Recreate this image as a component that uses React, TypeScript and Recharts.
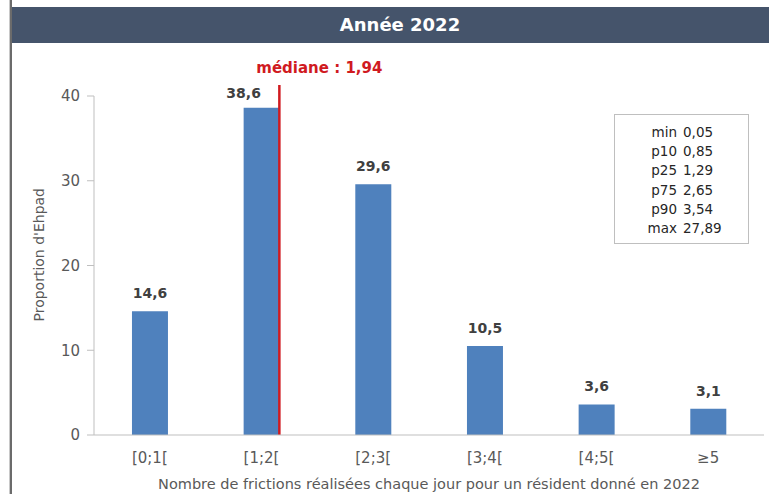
import { BarChart, Bar, XAxis, YAxis, ReferenceLine, LabelList } from 'recharts'

const categories = ['[0;1[', '[1;2[', '[2;3[', '[3;4[', '[4;5[', '≥5']
const shares = [14.6, 38.6, 29.6, 10.5, 3.6, 3.1]
const yTicks = [0, 10, 20, 30, 40]
const median = 1.94
const medianLineTop = 41.3
const statLabels = ['min', 'p10', 'p25', 'p75', 'p90', 'max']
const statValues = [0.05, 0.85, 1.29, 2.65, 3.54, 27.89]

const FONT = '"DejaVu Sans", "Liberation Sans", Arial, sans-serif'
const GREY = '#595959'
const AXIS = '#bfbfbf'
const BLUE = '#4f81bd'
const RED = '#d01a1f'
const GAP = 0.34

// pos = centre of each bin on a plain numeric axis, used only to place the median marker
const data = categories.map((bin, i) => ({ bin, share: shares[i], pos: i + 0.5 }))

const medianBin = Math.floor(median)
// Excel draws the marker on the right edge of the median's bar
const medianX = medianBin + 0.5 + (1 - 2 * GAP) / 2

const fr = (v: number, d: number) => v.toFixed(d).replace('.', ',')

function ValueLabel(props: any) {
  const vb = props.viewBox ?? props
  const x = props.x ?? vb.x
  const y = props.y ?? vb.y
  const width = props.width ?? vb.width
  const isMedianBin = props.index === medianBin
  return (
    <text
      x={isMedianBin ? x : x + width / 2}
      y={y - (isMedianBin ? 10 : 13)}
      textAnchor="middle"
      fill="#404040"
      fontSize={14}
      fontWeight="bold"
      fontFamily={FONT}
    >
      {fr(Number(props.value), 1)}
    </text>
  )
}

export default function App() {
  return (
    <div style={{ position: 'absolute', left: 0, top: 0, width: 769, height: 494, overflow: 'hidden', background: '#fff', fontFamily: FONT }}>
      <div style={{ position: 'absolute', left: 9, top: 0, width: 1, height: 494, background: '#c8c8c8' }} />
      <div style={{ position: 'absolute', left: 10, top: 0, width: 2, height: 494, background: '#6b6b6b' }} />
      <div
        style={{
          position: 'absolute',
          left: 12,
          top: 7,
          width: 776,
          height: 36,
          background: '#45546b',
          color: '#fff',
          fontWeight: 'bold',
          fontSize: 18,
          lineHeight: '36px',
          textAlign: 'center',
        }}
      >
        Année 2022
      </div>

      <BarChart
        width={769}
        height={494}
        data={data}
        margin={{ top: 96, right: 5, bottom: 0, left: 24 }}
        barCategoryGap={`${GAP * 100}%`}
        style={{ position: 'absolute', left: 0, top: 0 }}
      >
        <XAxis
          xAxisId="cat"
          dataKey="bin"
          height={59}
          tickLine={false}
          tickSize={0}
          tickMargin={17}
          axisLine={{ stroke: AXIS }}
          tick={{ fill: GREY, fontSize: 15, fontFamily: FONT }}
          label={{
            value: 'Nombre de frictions réalisées chaque jour pour un résident donné en 2022',
            position: 'insideBottom',
            offset: 5,
            fill: GREY,
            fontSize: 14.5,
            fontFamily: FONT,
          }}
        />
        <XAxis
          xAxisId="num"
          dataKey="pos"
          type="number"
          domain={[0, categories.length]}
          allowDataOverflow
          hide
        />
        <YAxis
          width={70}
          domain={[0, 40]}
          ticks={yTicks}
          interval={0}
          tickSize={7}
          tickMargin={7}
          axisLine={{ stroke: AXIS }}
          tickLine={{ stroke: AXIS }}
          tick={{ fill: GREY, fontSize: 15, fontFamily: FONT }}
          label={{
            value: "Proportion d'Ehpad",
            angle: -90,
            position: 'insideLeft',
            dx: 10,
            dy: 56,
            fill: GREY,
            fontSize: 14,
            fontFamily: FONT,
          }}
        />
        <Bar xAxisId="cat" dataKey="share" fill={BLUE} isAnimationActive={false}>
          <LabelList dataKey="share" content={<ValueLabel />} />
        </Bar>
        <ReferenceLine
          xAxisId="num"
          segment={[
            { x: medianX, y: medianLineTop },
            { x: medianX, y: 0 },
          ]}
          ifOverflow="visible"
          stroke={RED}
          strokeWidth={2.5}
          label={{
            value: `médiane : ${fr(median, 2)}`,
            position: 'top',
            offset: 12,
            dx: 40,
            fill: RED,
            fontSize: 15,
            fontWeight: 'bold',
            fontFamily: FONT,
          }}
        />
      </BarChart>

      <div
        style={{
          position: 'absolute',
          left: 614,
          top: 114,
          width: 133,
          height: 128,
          border: '1px solid #bfbfbf',
          boxSizing: 'content-box',
          color: '#262626',
          fontSize: 13.5,
        }}
      >
        <div style={{ paddingTop: 8 }}>
          {statLabels.map((lab, i) => (
            <div key={lab} style={{ display: 'flex', height: 19.2, lineHeight: '19.2px' }}>
              <span style={{ width: 62, textAlign: 'right' }}>{lab}</span>
              <span style={{ marginLeft: 6 }}>{fr(statValues[i], 2)}</span>
            </div>
          ))}
        </div>
      </div>
    </div>
  )
}
